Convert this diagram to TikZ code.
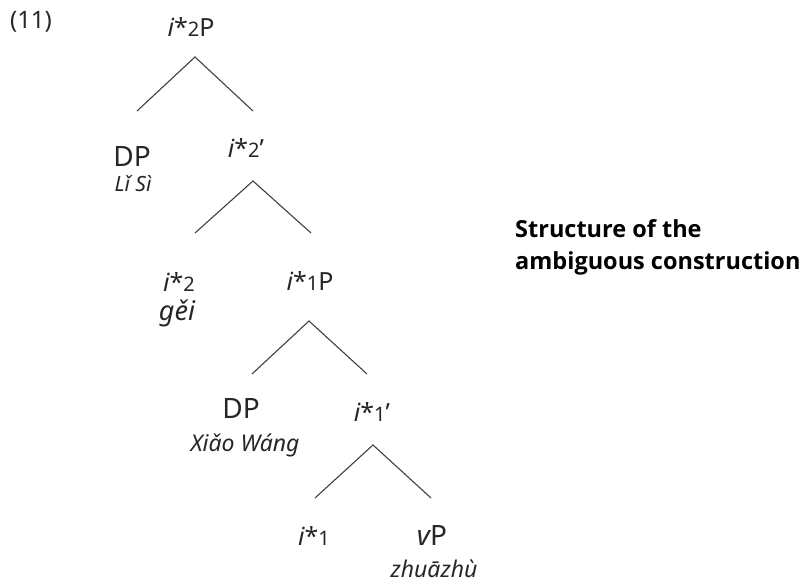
\documentclass[tikz,border=0pt]{standalone}
\usepackage{fontspec}
\setmainfont{Noto Sans}
\newfontfamily\capfont{Open Sans}
\newcommand\hd[1]{{\itshape i}*{\fontsize{20}{22}\selectfont #1}}
\begin{document}
\begin{tikzpicture}[x=1pt,y=-1pt,
  lab/.style={inner sep=0pt, anchor=base, font=\fontsize{25}{28}\selectfont, text=black!85},
  big/.style={lab, font=\fontsize{28}{30}\selectfont},
  gl/.style={inner sep=0pt, anchor=base, font=\fontsize{23}{26}\selectfont\itshape, text=black!85},
  captxt/.style={inner sep=0pt, anchor=base west, font=\capfont\fontsize{23.5}{28}\selectfont\bfseries},
  br/.style={draw=black!75, line width=1.1pt, line join=miter}]
\useasboundingbox (0,0) rectangle (809,583);
\node[lab, font=\fontsize{24}{28}\selectfont] (num) at (31,29) {(11)};
\node[lab] (r) at (191,37) {\hd{2}P};
\node[big] (dp1) at (132,167) {DP};
\node[gl, font=\fontsize{21}{24}\selectfont\itshape] (ls) at (133,191) {Lǐ Sì};
\node[lab] (r2b) at (246,158) {\hd{2}'};
\node[lab] (h2) at (179,291) {\hd{2}};
\node[gl, font=\fontsize{27}{30}\selectfont\itshape] (gei) at (177,320) {gěi};
\node[lab] (r1) at (310,290) {\hd{1}P};
\node[big] (dp2) at (241,418) {DP};
\node[gl] (xw) at (245,451) {Xiǎo Wáng};
\node[lab] (r1b) at (372,421) {\hd{1}'};
\node[lab] (h1) at (314,545) {\hd{1}};
\node[big] (vp) at (432,545) {{\itshape v}P};
\node[gl] (zz) at (434,577) {zhuāzhù};
\node[captxt] (c1) at (515,237) {Structure of the};
\node[captxt] (c2) at (515,269) {ambiguous construction};
\coordinate (a1) at (195,57);  \coordinate (l1) at (137,111); \coordinate (r1e) at (253,111);
\coordinate (a2) at (253,181); \coordinate (l2) at (195,233); \coordinate (r2e) at (311,233);
\coordinate (a3) at (309,321); \coordinate (l3) at (252,374); \coordinate (r3e) at (367,374);
\coordinate (a4) at (373,445); \coordinate (l4) at (315,498); \coordinate (r4e) at (431,498);
\draw[br] (l1) -- (a1) -- (r1e);
\draw[br] (l2) -- (a2) -- (r2e);
\draw[br] (l3) -- (a3) -- (r3e);
\draw[br] (l4) -- (a4) -- (r4e);
\end{tikzpicture}
\end{document}
